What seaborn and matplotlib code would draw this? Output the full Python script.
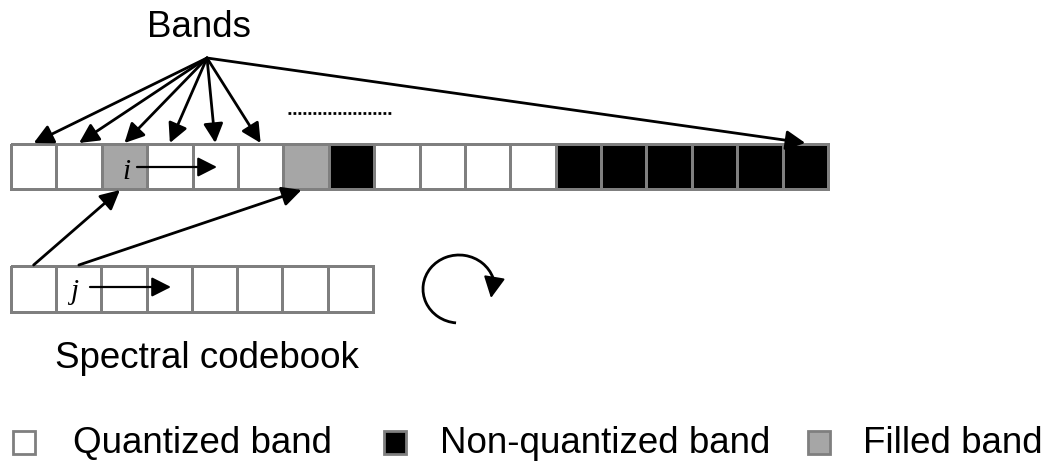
import numpy as np
import pandas as pd
import seaborn as sns
import matplotlib.pyplot as plt
from matplotlib.colors import ListedColormap
from matplotlib.patches import Arc, Rectangle

# band states: Q = quantized, N = non-quantized, F = filled
band_states = ['Q', 'Q', 'F', 'Q', 'Q', 'Q', 'F', 'N', 'Q', 'Q', 'Q', 'Q',
               'N', 'N', 'N', 'N', 'N', 'N']
codebook_states = ['Q', 'Q', 'Q', 'Q', 'Q', 'Q', 'Q', 'Q']
state_order = ['Q', 'N', 'F']
state_colors = ['#ffffff', '#000000', '#a6a6a6']
legend_labels = ['Quantized band', 'Non-quantized band', 'Filled band']
pointed_bands = [0, 1, 2, 3, 4, 5, 17]
codebook_links = [(0, 2), (1, 6)]  # codebook cell -> band it fills

sns.set_theme(style='white')
plt.rcParams['font.family'] = ['Liberation Sans', 'DejaVu Sans']
plt.rcParams['text.color'] = 'black'

W, H = 1044, 463
fig = plt.figure(figsize=(10.44, 4.63), dpi=100)


def px_box(x0, y0, x1, y1):
    return [x0 / W, 1 - y1 / H, (x1 - x0) / W, (y1 - y0) / H]


cmap = ListedColormap(state_colors)
edge = '#7f7f7f'

top = (11, 144, 828, 189)
cb = (11, 266, 373, 312)

top_ax = fig.add_axes(px_box(*top))
top_df = pd.DataFrame([[state_order.index(s) for s in band_states]])
sns.heatmap(top_df, ax=top_ax, cmap=cmap, vmin=-0.5, vmax=2.5, cbar=False,
            linewidths=2, linecolor=edge, xticklabels=False, yticklabels=False)
top_ax.collections[0].set_clip_on(False)
top_ax.set_axis_off()

cb_ax = fig.add_axes(px_box(*cb))
cb_df = pd.DataFrame([[state_order.index(s) for s in codebook_states]])
sns.heatmap(cb_df, ax=cb_ax, cmap=cmap, vmin=-0.5, vmax=2.5, cbar=False,
            linewidths=2, linecolor=edge, xticklabels=False, yticklabels=False)
cb_ax.collections[0].set_clip_on(False)
cb_ax.set_axis_off()

# overlay for arrows and text, in pixel units
ax = fig.add_axes([0, 0, 1, 1])
ax.set_xlim(0, W)
ax.set_ylim(H, 0)
ax.set_axis_off()
ax.patch.set_alpha(0)

top_w = (top[2] - top[0]) / len(band_states)
cb_w = (cb[2] - cb[0]) / len(codebook_states)


def arrow(x0, y0, x1, y1, lw=2.0, ms=18):
    ax.annotate('', xy=(x1, y1), xytext=(x0, y0),
                arrowprops=dict(arrowstyle='-|>,head_length=0.65,head_width=0.33',
                                mutation_scale=ms, lw=lw, color='black',
                                shrinkA=0, shrinkB=0))


apex = (207, 58)
for k in pointed_bands:
    arrow(apex[0], apex[1], top[0] + top_w * (k + 0.5), top[1] - 1)

for c, b in codebook_links:
    arrow(cb[0] + cb_w * (c + 0.5), cb[1] - 1,
          top[0] + top_w * (b + 0.4), top[3] + 1, lw=2.0)

# dotted "more bands" mark
ax.plot([288, 391], [113, 113], color='black', lw=2, ls=(0, (1, 0.8)))

# i and j scan arrows
ax.text(126, 179, 'i', family='Liberation Serif', style='italic',
        fontsize=21, ha='center', va='baseline')
arrow(137, 167, 217, 167, lw=1.6)
ax.text(74, 299, 'j', family='Liberation Serif', style='italic',
        fontsize=21, ha='center', va='baseline')
arrow(90, 287, 171, 287, lw=1.6)

# circular arrow
ax.add_patch(Arc((459, 289), 72, 68, theta1=95, theta2=342,
                 color='black', lw=2))
arrow(494, 280, 491, 298, lw=1.5, ms=20)

ax.text(147, 37, 'Bands', fontsize=26.5, ha='left', va='baseline')
ax.text(55, 368, 'Spectral codebook', fontsize=26.5, ha='left', va='baseline')

# legend
sq_x = [13, 384, 808]
txt_x = [73, 440, 863]
for i, lab in enumerate(legend_labels):
    ax.add_patch(Rectangle((sq_x[i], 431), 22, 23, facecolor=state_colors[i],
                           edgecolor=edge, lw=2))
    ax.text(txt_x[i], 453, lab, fontsize=26.5, ha='left', va='baseline')

fig.savefig('out.png', dpi=100)
